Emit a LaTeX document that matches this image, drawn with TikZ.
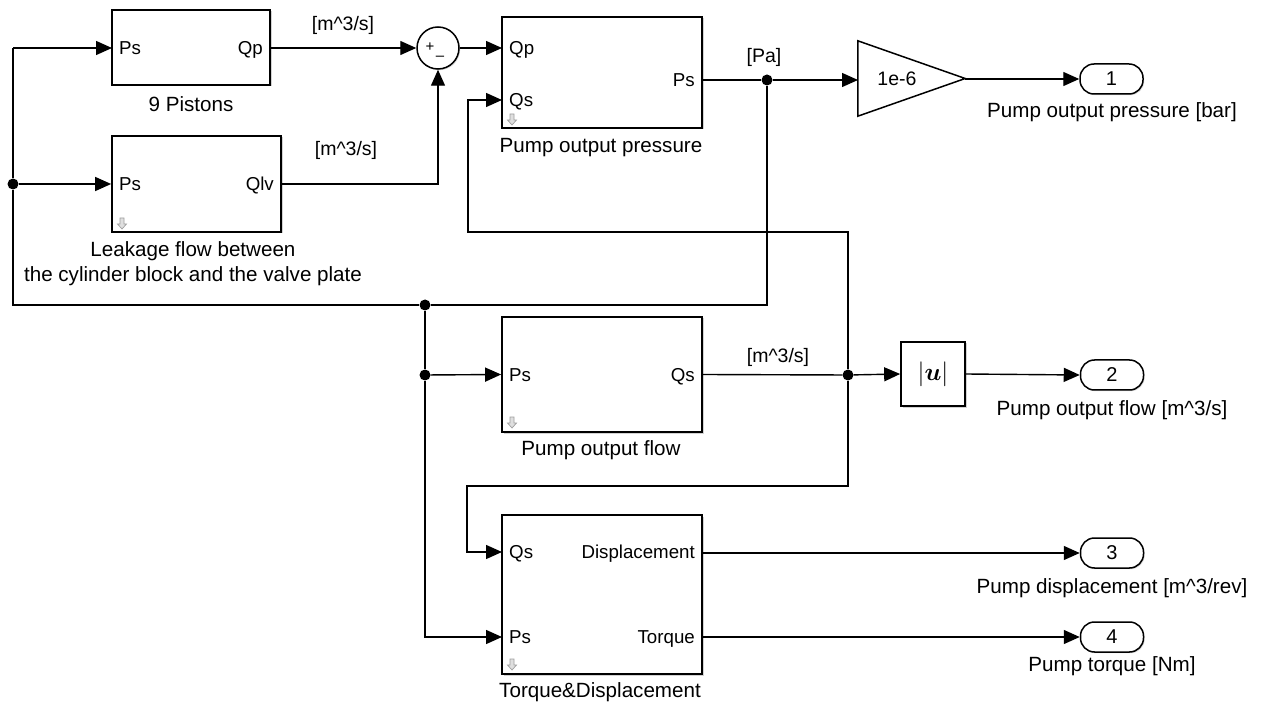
\documentclass[tikz,border=0pt]{standalone}
\usepackage{fontspec}
\usepackage{amsmath}
\setmainfont{Liberation Sans}
\usetikzlibrary{arrows.meta,shadows}
\tikzset{
 blk/.style={draw, line width=1.7pt, inner sep=0pt, fill=white,
   drop shadow={opacity=0.35, shadow xshift=1.5pt, shadow yshift=-1.5pt}},
 wire/.style={line width=1.4pt},
 arr/.style={wire, -{Triangle[length=16pt,width=14pt]}},
 jdot/.style={circle, fill, inner sep=0pt, minimum size=11pt},
 port/.style={font=\fontsize{18.7}{20}\selectfont, inner sep=0pt},
 lbl/.style={font=\fontsize{20.6}{25}\selectfont, inner sep=0pt, align=center},
 sig/.style={font=\fontsize{19.5}{22}\selectfont, inner sep=0pt},
 outp/.style={draw, line width=1.5pt, rounded corners=14pt, minimum width=63pt,
   minimum height=30pt, inner sep=0pt, font=\fontsize{20}{22}\selectfont, fill=white,
   drop shadow={opacity=0.3, shadow xshift=1.2pt, shadow yshift=-1.2pt}},
 dnarrow/.pic={\draw[gray!75, fill=gray!25, line width=0.7pt]
   (-2,-6) -- (2,-6) -- (2,0) -- (4.5,0) -- (0,5) -- (-4.5,0) -- (-2,0) -- cycle;}
}
\begin{document}
\begin{tikzpicture}[x=1pt,y=-1pt]
\useasboundingbox (0,0) rectangle (1267,703);
\fill[white] (0,0) rectangle (1267,703);

% ---- blocks ----
\node[blk, minimum width=158pt, minimum height=75pt] (pist) at (191,47.5) {};
\node[blk, minimum width=169pt, minimum height=96pt] (leak) at (196.5,184) {};
\node[blk, minimum width=200pt, minimum height=111pt] (pop) at (602,72.5) {};
\node[blk, minimum width=200pt, minimum height=115pt] (pof) at (602,374.5) {};
\node[blk, minimum width=200pt, minimum height=159pt] (tq) at (602,594.5) {};
\node[blk, minimum width=64pt, minimum height=64pt,
      font=\fontsize{26}{28}\selectfont] (abs) at (933,374) {$|\boldsymbol{u}|$};
\node[circle, draw, line width=1.5pt, minimum size=42pt, inner sep=0pt, fill=white,
      drop shadow={opacity=0.3, shadow xshift=1.2pt, shadow yshift=-1.2pt}] (sum) at (438,48) {};
\node[font=\fontsize{15}{16}\selectfont, inner sep=0pt] (sumplus) at (430,47) {+};
\node[font=\fontsize{15}{16}\selectfont, inner sep=0pt] (summinus) at (440,58) {–};
\node[minimum width=107pt, minimum height=75pt, inner sep=0pt] (gain) at (911.5,78.5) {};
\draw[line width=1.5pt, fill=white] (gain.north west) -- (gain.east) -- (gain.south west) -- cycle;
\node[sig] (gaintxt) at (897,79) {1e-6};

\node[outp] (out1) at (1111.5,79) {1};
\node[outp] (out2) at (1112,375) {2};
\node[outp] (out3) at (1112,553) {3};
\node[outp] (out4) at (1112,637) {4};

% grey library-link arrows
\pic at (122,224) {dnarrow};
\pic at (512,120) {dnarrow};
\pic at (512,423) {dnarrow};
\pic at (512,665) {dnarrow};

% ---- port labels ----
\node[port, anchor=base west] (pPs) at (119,54.5) {Ps};
\node[port, anchor=base east] (pQp) at (263,54.5) {Qp};
\node[port, anchor=base west] (lPs) at (119,190.5) {Ps};
\node[port, anchor=base east] (lQlv) at (274,190.5) {Qlv};
\node[port, anchor=base west] (oQp) at (509,54.5) {Qp};
\node[port, anchor=base west] (oQs) at (509,106.5) {Qs};
\node[port, anchor=base east] (oPs) at (695,86.5) {Ps};
\node[port, anchor=base west] (fPs) at (509,381.5) {Ps};
\node[port, anchor=base east] (fQs) at (695,381.5) {Qs};
\node[port, anchor=base west] (tQs) at (509,558.5) {Qs};
\node[port, anchor=base west] (tPs) at (509,643.5) {Ps};
\node[port, anchor=base east] (tDisp) at (695,558.5) {Displacement};
\node[port, anchor=base east] (tTor) at (695,643.5) {Torque};

% ---- block labels ----
\node[lbl] (lbpist) at (191,104) {9 Pistons};
\node[lbl] (lbleak) at (193,263.5) {Leakage flow between\\the cylinder block and the valve plate};
\node[lbl] (lbpop) at (601,148) {Pump output pressure};
\node[lbl] (lbpof) at (601,450) {Pump output flow};
\node[lbl] (lbtq) at (600,692) {Torque\&Displacement};
\node[lbl] (lbo1) at (1112,112) {Pump output pressure [bar]};
\node[lbl] (lbo2) at (1112,410) {Pump output flow [m\string^3/s]};
\node[lbl] (lbo3) at (1112,588) {Pump displacement [m\string^3/rev]};
\node[lbl] (lbo4) at (1112,666) {Pump torque [Nm]};

% ---- signal labels ----
\node[sig] (s1) at (343,25) {[m\string^3/s]};
\node[sig] (s2) at (346,150) {[m\string^3/s]};
\node[sig] (s3) at (764,57) {[Pa]};
\node[sig] (s4) at (778,357) {[m\string^3/s]};

% ---- port coordinates ----
\coordinate (pistIn) at (112,48);
\coordinate (pistOut) at (270,48);
\coordinate (popQpIn) at (502,48);
\coordinate (popQsIn) at (502,100);
\coordinate (popOut) at (702,80);
\coordinate (tqQsIn) at (502,552);
\coordinate (tqPsIn) at (502,637);
\coordinate (tqDOut) at (702,553);
\coordinate (tqTOut) at (702,637);
\coordinate (gainIn) at (858,80);
\coordinate (gainOut) at (965,79);
\coordinate (L1) at (13,48);
\coordinate (L2) at (13,305);
\coordinate (R2) at (767,305);
\coordinate (c1) at (468,232);
\coordinate (c2) at (467,486);

% ---- junctions ----
\node[jdot] (jL) at (13,184) {};
\node[jdot] (jPa) at (767,80) {};
\node[jdot] (j1) at (425,305) {};
\node[jdot] (j2) at (425,375) {};
\node[jdot] (jQ) at (848,375) {};

% ---- wires ----
\draw[arr] (L1) -- (pistIn);
\draw[wire] (L1) -- (jL) -- (L2) -- (j1) -- (R2) -- (jPa);
\draw[arr] (jL) -- (leak.west);
\draw[arr] (pistOut) -- (sum.west);
\draw[arr] (leak.east) -| (sum.south);
\draw[arr] (sum.east) -- (popQpIn);
\draw[wire] (popOut) -- (jPa);
\draw[arr] (jPa) -- (gainIn);
\draw[arr] (gainOut) -- (out1.west);
\draw[wire] (j1) -- (j2);
\draw[arr] (j2) -- (pof.west);
\draw[arr] (j2) |- (tqPsIn);
\draw[wire] (pof.east) -- (jQ);
\draw[arr] (jQ) -- (abs.west);
\draw[arr] (abs.east) -- (out2.west);
\draw[arr] (jQ) |- (c1) |- (popQsIn);
\draw[arr] (jQ) |- (c2) |- (tqQsIn);
\draw[arr] (tqDOut) -- (out3.west);
\draw[arr] (tqTOut) -- (out4.west);
\end{tikzpicture}
\end{document}
